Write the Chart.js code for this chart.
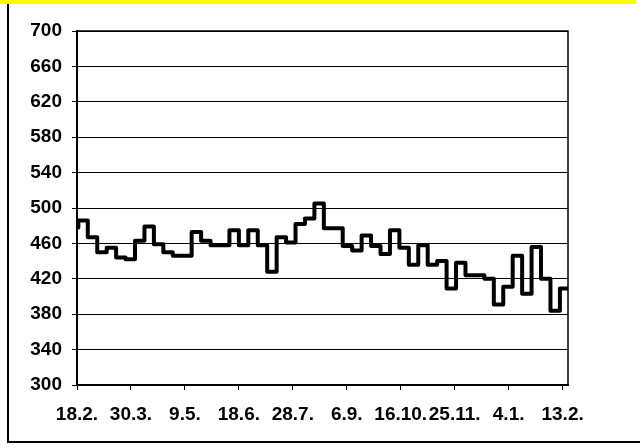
<!DOCTYPE html>
<html>
<head>
<meta charset="utf-8">
<script src="https://cdn.jsdelivr.net/npm/chart.js@4"></script>
<style>
  html, body { margin: 0; padding: 0; background: #fff; }
  #wrap { width: 640px; height: 448px; position: relative; }
</style>
</head>
<body>
<div id="wrap"><canvas id="c" width="640" height="448"></canvas></div>
<script>
// ---- data ----
const tickLabels = ['18.2.', '30.3.', '9.5.', '18.6.', '28.7.', '6.9.', '16.10.', '25.11.', '4.1.', '13.2.'];
const tickDays = [0, 40, 80, 120, 160, 200, 240, 280, 320, 360];   // days after 18.2.
const firstDayValue = 478;                                          // value on 18.2.
const weeklyValues = [
  486, 467, 450, 455, 444, 442, 463, 479, 459, 450,
  446, 446, 473, 463, 458, 458, 475, 458, 475, 458,
  428, 467, 461, 482, 488, 505, 477, 477, 457, 452,
  469, 457, 448, 475, 455, 436, 458, 436, 440, 409,
  438, 424, 424, 420, 391, 411, 446, 403, 456, 420,
  384, 409
];
const lastDay = 364;

// build points: each weekly value holds for 7 days, starting on day 1
const points = [{ x: 0, y: firstDayValue }];
weeklyValues.forEach((v, k) => points.push({ x: 1 + 7 * k, y: v }));
points.push({ x: lastDay, y: weeklyValues[weeklyValues.length - 1] });

const FONT = { family: '"Liberation Sans", Arial, sans-serif', size: 19, weight: 'bold' };

const decor = {
  id: 'decor',
  beforeDraw(chart) {
    const ctx = chart.ctx;
    ctx.save();
    ctx.fillStyle = '#fff';
    ctx.fillRect(0, 0, chart.width, chart.height);
    // yellow title band (cut off)
    ctx.fillStyle = '#ffff00';
    ctx.fillRect(0, 0, 636, 4);
    // outer frame: left and bottom borders
    ctx.strokeStyle = '#000';
    ctx.lineWidth = 2;
    ctx.beginPath();
    ctx.moveTo(8, 4);
    ctx.lineTo(8, 442);
    ctx.lineTo(640, 442);
    ctx.stroke();
    ctx.restore();
  },
  afterDatasetsDraw(chart) {
    const { ctx, chartArea: a } = chart;
    ctx.save();
    ctx.strokeStyle = '#000';
    ctx.lineWidth = 1.5;
    ctx.beginPath();
    ctx.moveTo(a.left, a.top);
    ctx.lineTo(a.right, a.top);
    ctx.lineTo(a.right, a.bottom);
    ctx.stroke();
    ctx.restore();
  }
};

new Chart(document.getElementById('c'), {
  type: 'line',
  data: {
    datasets: [{
      data: points,
      borderColor: '#000',
      borderWidth: 4,
      stepped: 'before',
      pointRadius: 0,
      borderJoinStyle: 'round',
      borderCapStyle: 'round',
      fill: false
    }]
  },
  options: {
    responsive: false,
    animation: false,
    events: [],
    layout: { padding: { left: 0, top: 31, right: 72, bottom: 0 } },
    plugins: { legend: { display: false }, tooltip: { enabled: false }, title: { display: false } },
    scales: {
      x: {
        type: 'linear',
        min: 0,
        max: lastDay,
        afterFit(s) { s.height = 63; },
        afterBuildTicks(s) { s.ticks = tickDays.map(v => ({ value: v })); },
        grid: { drawOnChartArea: false, drawTicks: true, tickLength: 5, tickColor: '#000', lineWidth: 1 },
        border: { display: true, color: '#000', width: 2 },
        ticks: {
          color: '#000',
          font: FONT,
          padding: 13,
          maxRotation: 0,
          autoSkip: false,
          callback(v) { const i = tickDays.indexOf(v); return i >= 0 ? tickLabels[i] : ''; }
        }
      },
      y: {
        min: 300,
        max: 700,
        afterFit(s) { s.width = 77; },
        grid: { color: '#000', lineWidth: 1, drawTicks: true, tickLength: 5, tickColor: '#000' },
        border: { display: true, color: '#000', width: 2 },
        ticks: { stepSize: 40, color: '#000', font: FONT, padding: 10 }
      }
    }
  },
  plugins: [decor]
});
</script>
</body>
</html>
